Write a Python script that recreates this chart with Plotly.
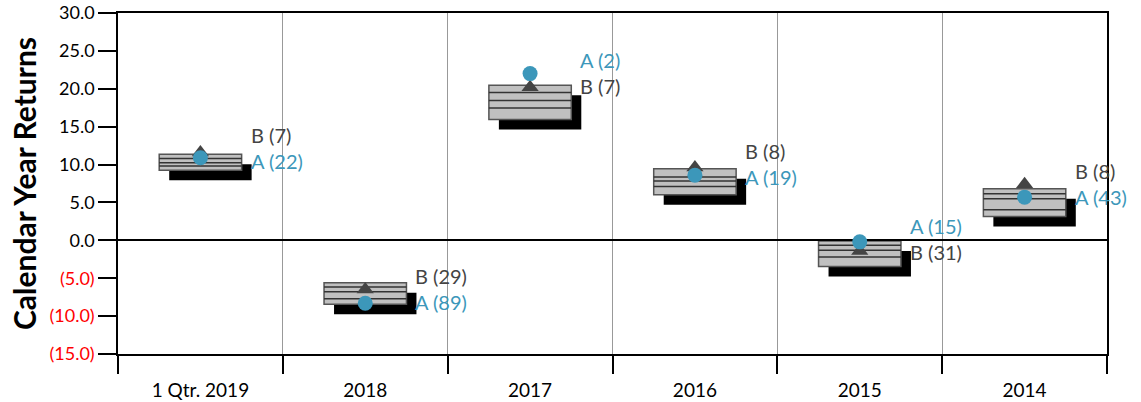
import plotly.graph_objects as go

categories = ["1 Qtr. 2019", "2018", "2017", "2016", "2015", "2014"]
p_top = [11.35, -5.6, 20.45, 9.45, -0.1, 6.8]
p_q1 = [10.8, -6.15, 19.5, 8.35, -0.65, 6.15]
p_med = [10.25, -6.8, 18.45, 7.82, -1.3, 5.5]
p_q3 = [9.8, -7.7, 17.45, 7.12, -2.2, 4.05]
p_bot = [9.25, -8.45, 15.95, 6.03, -3.45, 3.15]
a_vals = [10.9, -8.3, 22.0, 8.6, -0.2, 5.7]
b_vals = [11.6, -6.5, 20.2, 9.6, -1.4, 7.4]
a_rank = [22, 89, 2, 19, 15, 43]
b_rank = [7, 29, 7, 8, 31, 8]
y_ticks = [30, 25, 20, 15, 10, 5, 0, -5, -10, -15]

FONT = "Lato, 'Open Sans', sans-serif"
TEAL = "#3c97ba"
DARK = "#444444"
W, H = 1141, 402
M = dict(l=118, r=34, t=13, b=48)
YR = [-15, 30]
XR = [-0.5, len(categories) - 0.5]
px_x = (XR[1] - XR[0]) / (W - M["l"] - M["r"])
px_y = (YR[1] - YR[0]) / (H - M["t"] - M["b"])
half = 0.25
dx, dy = 10 * px_x, 10 * px_y

fig = go.Figure()
shapes = []
for i in range(len(categories)):
    shapes.append(dict(type="rect", x0=i - half + dx, x1=i + half + dx,
                       y0=p_bot[i] - dy, y1=p_top[i] - dy,
                       fillcolor="black", line=dict(width=0), layer="below"))
    shapes.append(dict(type="rect", x0=i - half, x1=i + half,
                       y0=p_bot[i], y1=p_top[i],
                       fillcolor="#c0c0c0", line=dict(color="#555555", width=1.5), layer="below"))
    for v in (p_q1[i], p_med[i], p_q3[i]):
        shapes.append(dict(type="line", x0=i - half, x1=i + half, y0=v, y1=v,
                           line=dict(color="#333333", width=1.5), layer="below"))
fig.update_layout(shapes=shapes)

xs = list(range(len(categories)))
fig.add_trace(go.Scatter(x=xs, y=b_vals, mode="markers",
                         marker=dict(symbol="triangle-up", size=15, color=DARK),
                         showlegend=False, hoverinfo="skip"))
fig.add_trace(go.Scatter(x=xs, y=a_vals, mode="markers",
                         marker=dict(symbol="circle", size=15, color=TEAL),
                         showlegend=False, hoverinfo="skip"))

annotations = []
for i in range(len(categories)):
    mid = (a_vals[i] + b_vals[i]) / 2
    a_up = a_vals[i] > b_vals[i]
    for txt, col, up in ((f"A ({a_rank[i]})", TEAL, a_up), (f"B ({b_rank[i]})", DARK, not a_up)):
        annotations.append(dict(x=i + half, y=mid, xref="x", yref="y", text=txt,
                                showarrow=False, xanchor="left", yanchor="middle",
                                xshift=7, yshift=20 if up else -6,
                                font=dict(family=FONT, size=20, color=col)))
fig.update_layout(annotations=annotations)

def fmt(v):
    if v < 0:
        return f"<span style='color:red'>({abs(v):.1f})</span>"
    return f"{v:.1f}"

fig.update_layout(
    width=W, height=H, margin=M,
    paper_bgcolor="white", plot_bgcolor="white",
    font=dict(family=FONT, size=18, color="black"),
    xaxis=dict(range=XR, tickmode="array", tickvals=xs, ticktext=categories,
               ticks="outside", ticklen=18, tickcolor="rgba(0,0,0,0)",
               showgrid=False, zeroline=False, automargin=False,
               showline=True, linecolor="black", linewidth=1.5, mirror=True,
               tickfont=dict(size=19),
               minor=dict(tickmode="array", tickvals=[i - 0.5 for i in range(len(categories) + 1)],
                          showgrid=True, gridcolor="#999999", gridwidth=1,
                          ticks="outside", ticklen=18, tickcolor="black", tickwidth=1.5)),
    yaxis=dict(range=YR, tickmode="array", tickvals=y_ticks,
               ticktext=[fmt(v) for v in y_ticks], automargin=False,
               ticklabeloverflow="allow",
               ticks="outside", ticklen=18, tickcolor="black", tickwidth=1.5,
               showgrid=False, zeroline=True, zerolinecolor="black", zerolinewidth=1.5,
               showline=True, linecolor="black", linewidth=1.5, mirror=True,
               title=dict(text="<b>Calendar Year Returns</b>", font=dict(size=30), standoff=4)),
)

fig.write_html("out.html", config={"displayModeBar": False},
               post_script="document.body.style.margin='0';document.body.style.overflow='hidden';")
